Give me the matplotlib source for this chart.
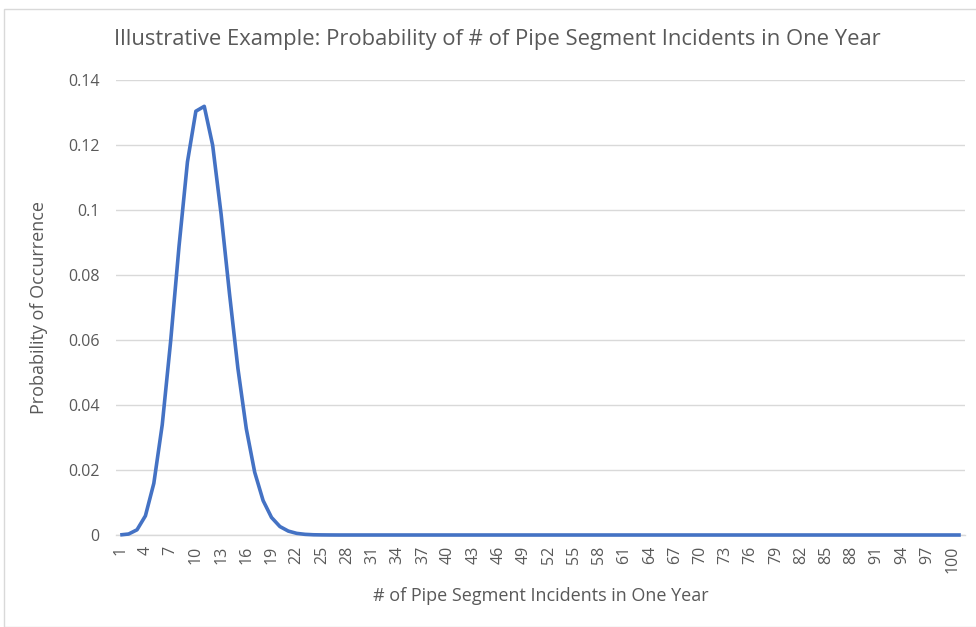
import numpy as np
import matplotlib.pyplot as plt
from matplotlib.patches import Rectangle

# number of incidents (categories 1..101) and probability
incidents = list(range(1, 102))
prob_head = [0.00003, 0.0003, 0.0016, 0.0059, 0.0159, 0.0339, 0.0596, 0.0889,
             0.1148, 0.1304, 0.1319, 0.1199, 0.0988, 0.0743, 0.0513, 0.0327,
             0.0193, 0.0106, 0.0054, 0.0026, 0.0012, 0.0005, 0.0002, 0.00007,
             0.00003, 0.00001]
prob_tail = [0.0] * (len(incidents) - len(prob_head))
probability = prob_head + prob_tail

xtick_labels = [str(v) for v in incidents if (v - 1) % 3 == 0]
yticks = [0, 0.02, 0.04, 0.06, 0.08, 0.1, 0.12, 0.14]
ytick_labels = ['0', '0.02', '0.04', '0.06', '0.08', '0.1', '0.12', '0.14']

plt.rcParams['font.family'] = ['Open Sans', 'DejaVu Sans']
text_color = '#595959'

fig = plt.figure(figsize=(9.76, 6.27), dpi=100)
fig.patches.append(Rectangle((4 / 976, 0), 1, 1 - 9 / 627, transform=fig.transFigure,
                             fill=False, edgecolor='#d9d9d9', linewidth=1))
ax = fig.add_axes([116 / 976, 1 - 535 / 627, (965 - 116) / 976, (535 - 80) / 627])

ax.plot(incidents, probability, color='#4472C4', linewidth=2.6,
        solid_joinstyle='round', solid_capstyle='butt', clip_on=False, zorder=3)

ax.set_xlim(0.5, len(incidents) + 0.5)
ax.set_ylim(0, 0.14)
ax.set_yticks(yticks)
ax.set_yticklabels(ytick_labels)
ax.set_xticks([int(v) for v in xtick_labels])
ax.set_xticklabels(xtick_labels, rotation=90)

ax.grid(axis='y', color='#d9d9d9', linewidth=1)
ax.set_axisbelow(True)
for side in ['top', 'right', 'left']:
    ax.spines[side].set_visible(False)
ax.spines['bottom'].set_color('#d9d9d9')
ax.spines['bottom'].set_linewidth(1)
ax.tick_params(axis='x', length=0, labelcolor=text_color, labelsize=11.5, pad=8)
ax.tick_params(axis='y', length=0, labelcolor=text_color, labelsize=11.5, pad=12)

ax.set_xlabel('# of Pipe Segment Incidents in One Year', color=text_color,
              fontsize=13, labelpad=10)
ax.set_ylabel('Probability of Occurrence', color=text_color, fontsize=13,
              labelpad=14)
fig.text(0.51, 1 - 40 / 627, 'Illustrative Example: Probability of # of Pipe Segment Incidents in One Year',
         ha='center', va='center', color=text_color, fontsize=15.8)

fig.savefig('out.png', dpi=100)
